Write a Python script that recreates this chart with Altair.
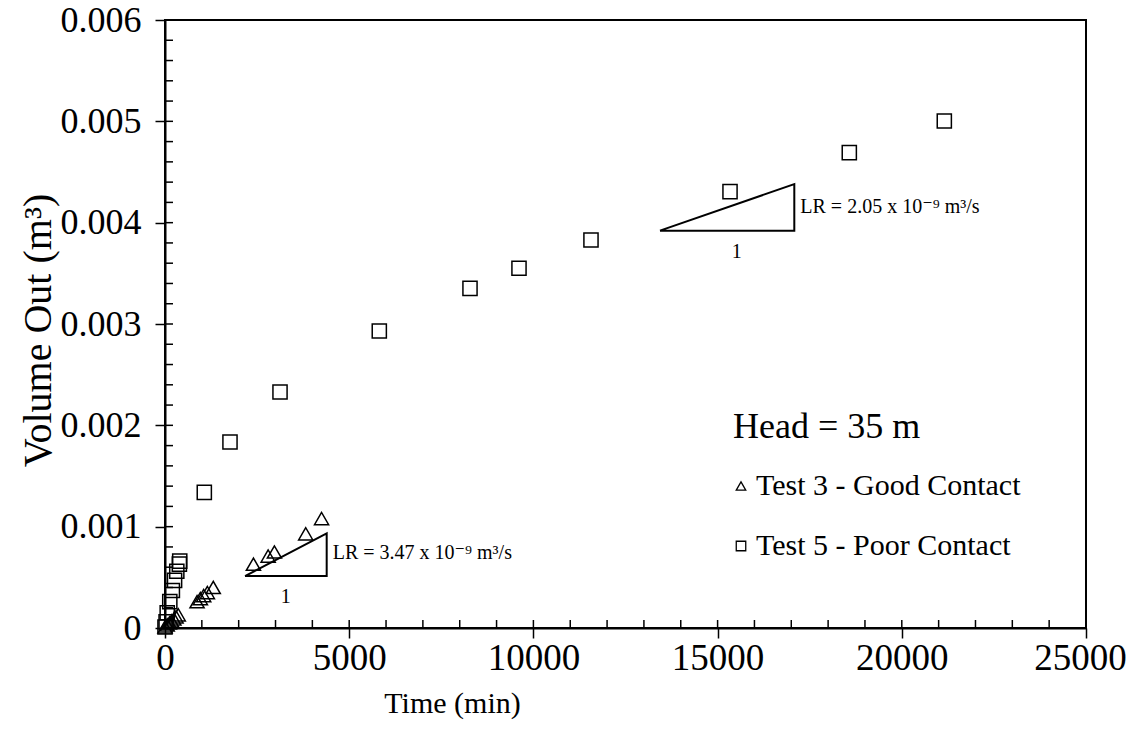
import altair as alt
import pandas as pd

# ---- data ----
t3_time = [0, 60, 120, 180, 240, 300, 360, 870, 960, 1050, 1150, 1310, 2400, 2800, 2970, 3820, 4250]
t3_vol = [0.00001, 0.00003, 0.00005, 0.00007, 0.00009, 0.00011, 0.00013, 0.00026, 0.00029, 0.00032,
          0.00035, 0.00040, 0.00063, 0.00071, 0.00075, 0.00093, 0.00108]

t5_time = [0, 30, 60, 130, 200, 260, 320, 390, 400, 1067, 1764, 3122, 5817, 8279, 9609, 11563,
           15337, 18575, 21154]
t5_vol = [0.00001, 0.00006, 0.00015, 0.00026, 0.00037, 0.00047, 0.00056, 0.00063, 0.00066, 0.001339,
          0.001836, 0.002329, 0.002931, 0.003352, 0.003550, 0.003829, 0.004306, 0.004691, 0.005003]

series_names = ["Test 3 - Good Contact", "Test 5 - Poor Contact"]

x_major = [0, 5000, 10000, 15000, 20000, 25000]
x_minor = list(range(0, 25001, 1000))
y_major = [0, 0.001, 0.002, 0.003, 0.004, 0.005, 0.006]
y_minor = [round(i * 0.0002, 4) for i in range(31)]

slope1_t = [2172, 4389, 4389, 2172]
slope1_v = [0.000513, 0.000513, 0.000934, 0.000513]
slope2_t = [13436, 17082, 17082, 13436]
slope2_v = [0.003921, 0.003921, 0.004381, 0.003921]

notes_text = ["LR = 3.47 x 10\u207b\u2079 m\u00b3/s", "LR = 2.05 x 10\u207b\u2079 m\u00b3/s"]
notes_t = [4389, 17082]
notes_v = [0.00074, 0.004158]
run_text = ["1", "1"]
run_t = [3280, 15518]
run_v = [0.000306, 0.003713]

FONT = "Liberation Serif, Times New Roman, DejaVu Serif, serif"
W, H = 921, 608

# ---- tables ----
pts = pd.DataFrame({
    "time": t3_time + t5_time,
    "vol": t3_vol + t5_vol,
    "series": [series_names[0]] * len(t3_time) + [series_names[1]] * len(t5_time),
})
slopes = pd.DataFrame({
    "time": slope1_t + slope2_t,
    "vol": slope1_v + slope2_v,
    "tri": ["a"] * 4 + ["b"] * 4,
    "ord": list(range(4)) * 2,
})
notes = pd.DataFrame({"time": notes_t, "vol": notes_v, "text": notes_text})
runs = pd.DataFrame({"time": run_t, "vol": run_v, "text": run_text})
xmin_df = pd.DataFrame({"v": x_minor})
ymin_df = pd.DataFrame({"v": y_minor})

xs = alt.Scale(domain=[0, 25000], nice=False, zero=False)
ys = alt.Scale(domain=[0, 0.006], nice=False, zero=False)

x_axis = alt.Axis(
    values=x_major, format="d", grid=False, tickSize=10, tickWidth=1.5, tickColor="black",
    labelFontSize=37, labelFont=FONT, labelColor="black", labelPadding=2, labelFlush=False,
    labelOverlap=False,
    labelOffset={"condition": {"test": "datum.value == 25000", "value": -6}, "value": 0},
    title="Time (min)", titleFont=FONT, titleFontSize=30, titleFontWeight="normal",
    titleColor="black", titleX=287, titleY=75, titleBaseline="middle", titleAlign="center",
    domainColor="black", domainWidth=2,
)
y_axis = alt.Axis(
    values=y_major, grid=False, tickSize=10, tickWidth=1.5, tickColor="black",
    labelExpr="datum.value == 0 ? '0' : format(datum.value, '.3f')",
    labelFontSize=36, labelFont=FONT, labelColor="black", labelPadding=14, labelFlush=False,
    labelOverlap=False,
    title="Volume Out (m\u00b3)", titleFont=FONT, titleFontSize=40, titleFontWeight="normal",
    titleColor="black", titleX=-127, titleY=310, titleAngle=-90, titleBaseline="middle",
    titleAlign="center", titleLimit=700, domainColor="black", domainWidth=2,
)

points = alt.Chart(pts).mark_point(filled=False, strokeWidth=1.5, opacity=1).encode(
    x=alt.X("time:Q", scale=xs, axis=x_axis),
    y=alt.Y("vol:Q", scale=ys, axis=y_axis),
    shape=alt.Shape(
        "series:N",
        scale=alt.Scale(domain=series_names, range=["triangle-up", "square"]),
        legend=alt.Legend(
            orient="none", legendX=568, legendY=390, title="Head = 35 m",
            titleFont=FONT, titleFontSize=36, titleFontWeight="normal", titleColor="black",
            titleLimit=500, titlePadding=25, labelFont=FONT, labelFontSize=30,
            labelColor="black", labelOffset=0, labelLimit=500, rowPadding=30,
            symbolSize=90, symbolStrokeWidth=1.3, symbolOffset=-7,
            symbolStrokeColor="black", symbolFillColor="white",
        ),
    ),
    color=alt.value("black"),
    size=alt.value(200),
)

xticks = alt.Chart(xmin_df).mark_rule(color="black", strokeWidth=1.5).encode(
    x=alt.X("v:Q", scale=xs), y=alt.value(H), y2=alt.value(H - 8)
)
yticks = alt.Chart(ymin_df).mark_rule(color="black", strokeWidth=1.5).encode(
    y=alt.Y("v:Q", scale=ys), x=alt.value(0), x2=alt.value(8)
)

tri = alt.Chart(slopes).mark_line(color="black", strokeWidth=2).encode(
    x=alt.X("time:Q", scale=xs), y=alt.Y("vol:Q", scale=ys), detail="tri:N", order="ord:Q"
)
note = alt.Chart(notes).mark_text(
    align="left", baseline="middle", dx=6, font=FONT, fontSize=20, color="black"
).encode(x=alt.X("time:Q", scale=xs), y=alt.Y("vol:Q", scale=ys), text="text:N")
run = alt.Chart(runs).mark_text(
    align="center", baseline="middle", font=FONT, fontSize=20, color="black"
).encode(x=alt.X("time:Q", scale=xs), y=alt.Y("vol:Q", scale=ys), text="text:N")

chart = alt.layer(tri, xticks, yticks, points, note, run).properties(
    width=W, height=H, autosize="none",
    padding={"left": 157, "top": 12, "right": 41, "bottom": 100},
    background="white",
).configure_view(stroke="black", strokeWidth=2)

chart.save("out.html", embed_options={"renderer": "svg", "actions": False})
